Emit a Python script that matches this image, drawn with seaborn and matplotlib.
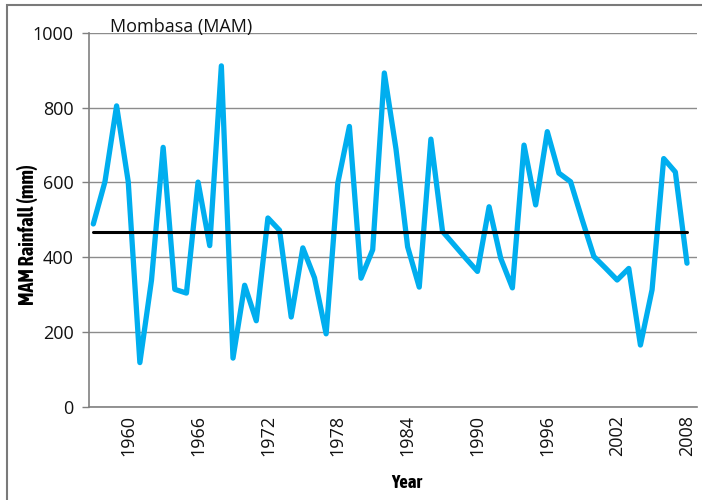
import matplotlib
matplotlib.use("Agg")
import matplotlib.pyplot as plt
from matplotlib import font_manager
from matplotlib.patches import Rectangle
import numpy as np
import pandas as pd
import seaborn as sns

# March-April-May rainfall totals at Mombasa
years = list(range(1957, 2009))
rainfall = [
    489, 602, 805, 602, 118, 339, 694, 314, 304, 601, 431, 912, 130,
    325, 230, 505, 472, 240, 425, 345, 195, 598, 750, 344, 420, 893,
    690, 428, 320, 716, 469, 433, 397, 362, 535, 397, 318, 700, 540,
    736, 625, 602, 500, 402, 371, 339, 370, 165, 313, 664, 628, 384,
]
mean_rainfall = [468] * len(years)

yticks = [0, 200, 400, 600, 800, 1000]
xticks = [1960, 1966, 1972, 1978, 1984, 1990, 1996, 2002, 2008]

df = pd.DataFrame({"Year": years, "Rainfall": rainfall, "Mean": mean_rainfall})

sns.set_theme(style="white")
plt.rcParams["font.family"] = ["Open Sans", "DejaVu Sans"]

# pick a narrow bold face for the axis titles if one is available
narrow = None
for f in font_manager.fontManager.ttflist:
    if ("Condensed" in f.name or "Narrow" in f.name) and f.weight in (700, "bold"):
        narrow = f.fname
        break
if narrow is None:
    for f in font_manager.fontManager.ttflist:
        if "Condensed" in f.fname and "Bold" in f.fname:
            narrow = f.fname
            break

fig = plt.figure(figsize=(7.02, 5.00), dpi=100)
ax = fig.add_axes([89 / 702, 1 - 406.7 / 500, (697 - 89) / 702, (406.7 - 33) / 500])

sns.lineplot(data=df, x="Year", y="Rainfall", ax=ax, color="#00AEEF",
             linewidth=3.8, solid_joinstyle="round", zorder=3)
sns.lineplot(data=df, x="Year", y="Mean", ax=ax, color="black",
             linewidth=2.2, zorder=4)

ax.set_xlim(1956.63, 2008.86)
ax.set_ylim(0, 1000)
ax.set_yticks(yticks)
ax.set_yticklabels([str(v) for v in yticks], fontsize=13, color="#111111")
ax.set_xticks(xticks)
ax.set_xticklabels([str(v) for v in xticks], rotation=90, fontsize=13,
                   color="#111111")
ax.tick_params(axis="y", which="major", direction="out", length=5, width=1,
               color="#808080", pad=6, left=True)
ax.tick_params(axis="x", which="major", length=0, pad=6)

ax.yaxis.grid(True, color="#8c8c8c", linewidth=1.0)
ax.xaxis.grid(False)
ax.set_axisbelow(True)

for side in ["top", "right"]:
    ax.spines[side].set_visible(False)
for side in ["left", "bottom"]:
    ax.spines[side].set_color("#808080")
    ax.spines[side].set_linewidth(1.2)

if narrow is not None:
    xfont = dict(fontproperties=font_manager.FontProperties(fname=narrow, size=13.5),
                 color="black")
    yfont = dict(fontproperties=font_manager.FontProperties(fname=narrow, size=14.5),
                 color="black")
else:
    xfont = yfont = dict(family=["Roboto", "DejaVu Sans"], weight="bold",
                         fontsize=12, color="black")
ax.set_xlabel("Year", **xfont)
ax.set_ylabel("MAM Rainfall (mm)", **yfont)
ax.xaxis.set_label_coords((407 - 89) / 608, -(483 - 406.7) / 373.7)
ax.yaxis.set_label_coords(-(89 - 27) / 608, (406.7 - 235) / 373.7)
ax.xaxis.label.set_va("center")
ax.yaxis.label.set_va("center")

ax.text(110 / 702, 1 - 27 / 500, "Mombasa (MAM)", transform=fig.transFigure,
        fontsize=13, color="#111111", va="center", ha="left")

# outer frame around the chart area
fig.patches.append(Rectangle((7 / 702, -0.05), 1.2, 1 - 5 / 500 + 0.05,
                             transform=fig.transFigure, fill=False,
                             edgecolor="#7a7a7a", linewidth=1.5))

fig.savefig("out.png", dpi=100)
